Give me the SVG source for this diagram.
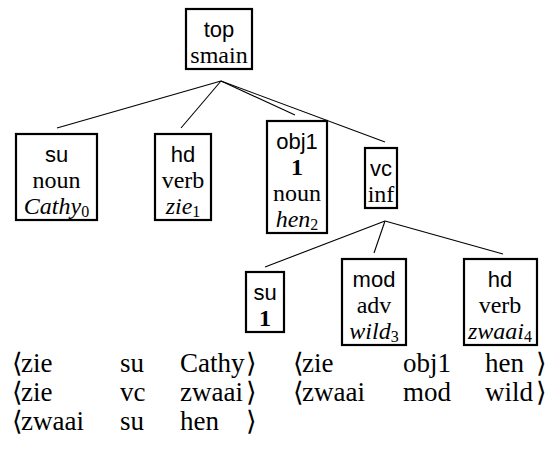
<svg xmlns="http://www.w3.org/2000/svg" width="553" height="455" viewBox="0 0 553 455">
<style>
.box{fill:#fff;stroke:#000;stroke-width:2.2}
.edge{stroke:#000;stroke-width:1.1;fill:none}
.sf{font-family:"Liberation Sans",Arial,sans-serif;font-size:22px;text-anchor:middle}
.rm{font-family:"Liberation Serif","Times New Roman",serif;font-size:24px;text-anchor:middle}
.it{font-family:"Liberation Serif","Times New Roman",serif;font-size:24px;font-style:italic;text-anchor:middle}
.bf{font-family:"Liberation Serif","Times New Roman",serif;font-size:24px;font-weight:bold;text-anchor:middle}
.sub{font-style:normal;font-size:16px}
.row{font-family:"Liberation Serif","Times New Roman","DejaVu Serif",serif;font-size:27px}
</style>
<rect width="553" height="455" fill="#fff"/>
<g id="connectors">
<line class="edge" x1="221" y1="81" x2="57" y2="128"/>
<line class="edge" x1="221" y1="81" x2="181" y2="128"/>
<line class="edge" x1="221" y1="81" x2="295" y2="115"/>
<line class="edge" x1="221" y1="81" x2="385" y2="142"/>
<line class="edge" x1="385" y1="221" x2="265" y2="267"/>
<line class="edge" x1="385" y1="221" x2="374" y2="253"/>
<line class="edge" x1="385" y1="221" x2="503" y2="254"/>
</g>
<g id="top">
<rect class="box" x="186" y="9" width="66" height="60"/>
<text class="sf" x="219" y="37">top</text>
<text class="rm" x="219" y="63">smain</text>
</g>
<g id="su">
<rect class="box" x="16" y="134" width="81" height="86"/>
<text class="sf" x="56.5" y="162">su</text>
<text class="rm" x="56.5" y="188">noun</text>
<text class="it" x="56.5" y="214">Cathy<tspan class="sub" dy="3">0</tspan></text>
</g>
<g id="hd">
<rect class="box" x="155" y="134" width="56" height="86"/>
<text class="sf" x="183" y="162">hd</text>
<text class="rm" x="183" y="188">verb</text>
<text class="it" x="183" y="214">zie<tspan class="sub" dy="3">1</tspan></text>
</g>
<g id="obj1">
<rect class="box" x="267" y="121" width="60" height="112"/>
<text class="sf" x="297" y="149">obj1</text>
<text class="bf" x="297" y="175">1</text>
<text class="rm" x="297" y="201">noun</text>
<text class="it" x="297" y="227">hen<tspan class="sub" dy="3">2</tspan></text>
</g>
<g id="vc">
<rect class="box" x="365" y="148" width="32" height="60"/>
<text class="sf" x="381" y="176">vc</text>
<text class="rm" x="381" y="202">inf</text>
</g>
<g id="su2">
<rect class="box" x="246" y="272" width="38" height="60"/>
<text class="sf" x="265" y="300">su</text>
<text class="bf" x="265" y="326">1</text>
</g>
<g id="mod">
<rect class="box" x="342" y="259" width="64" height="86"/>
<text class="sf" x="374" y="287">mod</text>
<text class="rm" x="374" y="313">adv</text>
<text class="it" x="374" y="339">wild<tspan class="sub" dy="3">3</tspan></text>
</g>
<g id="hd2">
<rect class="box" x="464" y="259" width="73" height="86"/>
<text class="sf" x="500" y="287">hd</text>
<text class="rm" x="500" y="313">verb</text>
<text class="it" x="500" y="339">zwaai<tspan class="sub" dy="3">4</tspan></text>
</g>
<g id="triples" class="row">
<text x="12" y="372">⟨</text><text x="21" y="372">zie</text><text x="120" y="372">su</text><text x="180" y="372">Cathy</text><text x="246" y="372">⟩</text>
<text x="293" y="372">⟨</text><text x="302" y="372">zie</text><text x="403" y="372">obj1</text><text x="485" y="372">hen</text><text x="536" y="372">⟩</text>
<text x="12" y="401">⟨</text><text x="21" y="401">zie</text><text x="120" y="401">vc</text><text x="180" y="401">zwaai</text><text x="246" y="401">⟩</text>
<text x="293" y="401">⟨</text><text x="302" y="401">zwaai</text><text x="403" y="401">mod</text><text x="485" y="401">wild</text><text x="536" y="401">⟩</text>
<text x="12" y="430">⟨</text><text x="21" y="430">zwaai</text><text x="120" y="430">su</text><text x="180" y="430">hen</text><text x="246" y="430">⟩</text>
</g>
</svg>
